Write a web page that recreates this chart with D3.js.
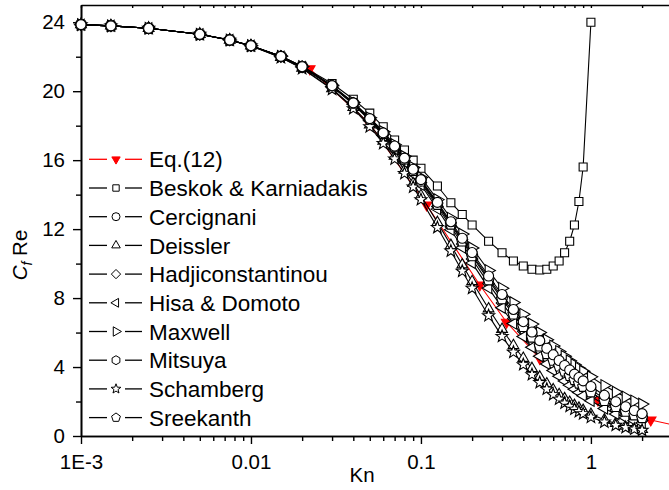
<!DOCTYPE html>
<html>
<head>
<meta charset="utf-8">
<script src="https://cdn.jsdelivr.net/npm/d3@7"></script>
<style>
body { margin: 0; background: #fff; }
text { font-family: Arial, "Liberation Sans", sans-serif; fill: #000; }
</style>
</head>
<body>
<script>
// Kn values shared by the model curves
var KN = [0.001, 0.0015, 0.0025, 0.005, 0.0075, 0.01, 0.015, 0.02,
  0.03, 0.04, 0.05, 0.06, 0.07, 0.08, 0.09, 0.1, 0.125, 0.15, 0.175,
  0.2, 0.25, 0.3, 0.35, 0.4, 0.45, 0.5, 0.55, 0.6, 0.65, 0.7, 0.75, 0.8, 0.85, 0.9,
  1.0, 1.2, 1.4, 1.6, 1.8, 2.0];

var beskok = [23.86, 23.79, 23.65, 23.30, 22.97, 22.64, 22.03, 21.45,
  20.45, 19.53, 18.73, 17.94, 17.17, 16.59, 16.00, 15.53, 14.50, 13.53, 12.85,
  12.24, 11.30, 10.63, 10.15, 9.86, 9.67, 9.63, 9.67, 9.86, 10.15, 10.63, 11.30, 12.24, 13.60, 15.60,
  24.00, null, null, null, null, null];
var cercignani = [23.86, 23.79, 23.65, 23.30, 22.97, 22.64, 22.02, 21.42,
  20.32, 19.32, 18.41, 17.58, 16.82, 16.12, 15.47, 14.87, 13.55, 12.43, 11.47,
  10.64, 9.28, 8.21, 7.34, 6.63, 6.03, 5.53, 5.09, 4.71, 4.38, 4.09, 3.83, 3.59, 3.39, 3.20,
  2.87, 2.36, 1.99, 1.70, 1.48, 1.30];
var deissler = [23.86, 23.79, 23.65, 23.30, 22.97, 22.63, 21.96, 21.34,
  20.15, 19.06, 18.05, 17.10, 16.23, 15.42, 14.66, 13.95, 12.39, 11.06, 9.93,
  8.96, 7.38, 6.19, 5.25, 4.51, 3.92, 3.43, 3.03, 2.69, 2.41, 2.17, 1.96, 1.78, 1.62, 1.49,
  1.26, 0.94, 0.73, 0.58, 0.47, 0.39];
var hadji = [23.86, 23.79, 23.65, 23.30, 22.97, 22.64, 22.01, 21.41,
  20.29, 19.27, 18.34, 17.49, 16.70, 15.98, 15.31, 14.69, 13.31, 12.14, 11.14,
  10.27, 8.84, 7.72, 6.82, 6.08, 5.46, 4.94, 4.50, 4.12, 3.78, 3.49, 3.23, 3.00, 2.80, 2.62,
  2.30, 1.83, 1.49, 1.24, 1.05, 0.90];
var hisa = [23.86, 23.79, 23.65, 23.30, 22.97, 22.64, 22.00, 21.40,
  20.27, 19.24, 18.29, 17.43, 16.63, 15.89, 15.20, 14.57, 13.16, 11.96, 10.93,
  10.04, 8.58, 7.44, 6.52, 5.77, 5.15, 4.63, 4.18, 3.80, 3.47, 3.19, 2.94, 2.71, 2.52, 2.34,
  2.04, 1.60, 1.28, 1.05, 0.88, 0.75];
var maxwell = [23.86, 23.79, 23.65, 23.30, 22.97, 22.64, 22.02, 21.43,
  20.34, 19.35, 18.46, 17.65, 16.90, 16.22, 15.58, 15.00, 13.71, 12.63, 11.71,
  10.91, 9.60, 8.57, 7.74, 7.06, 6.49, 6.00, 5.58, 5.22, 4.90, 4.62, 4.36, 4.14, 3.93, 3.75,
  3.43, 2.93, 2.55, 2.26, 2.03, 1.85];
var mitsuya = [23.86, 23.79, 23.65, 23.30, 22.97, 22.64, 22.02, 21.42,
  20.31, 19.31, 18.39, 17.56, 16.79, 16.08, 15.42, 14.82, 13.48, 12.34, 11.37,
  10.53, 9.15, 8.06, 7.18, 6.46, 5.86, 5.34, 4.90, 4.52, 4.19, 3.89, 3.63, 3.40, 3.19, 3.00,
  2.68, 2.17, 1.81, 1.53, 1.32, 1.15];
var schamberg = [23.86, 23.79, 23.65, 23.30, 22.96, 22.63, 21.95, 21.31,
  20.11, 18.99, 17.94, 16.97, 16.07, 15.23, 14.44, 13.71, 12.09, 10.73, 9.56,
  8.57, 6.98, 5.78, 4.86, 4.14, 3.56, 3.10, 2.72, 2.40, 2.14, 1.91, 1.72, 1.56, 1.42, 1.29,
  1.09, 0.81, 0.62, 0.49, 0.40, 0.33];
var sreekanth = [23.86, 23.79, 23.65, 23.30, 22.97, 22.64, 22.02, 21.42,
  20.30, 19.29, 18.37, 17.53, 16.76, 16.05, 15.39, 14.77, 13.42, 12.27, 11.29,
  10.44, 9.04, 7.94, 7.06, 6.33, 5.72, 5.20, 4.76, 4.38, 4.04, 3.75, 3.49, 3.25, 3.05, 2.86,
  2.54, 2.04, 1.69, 1.42, 1.21, 1.05];

// Eq.(12) has its own sampling
var KN_EQ = [0.0222, 0.05, 0.108, 0.222, 0.319, 0.5, 0.75, 1.1, 1.6, 2.25, 3.2];
var eq12 = [21.3, 18.1, 13.4, 8.76, 6.6, 4.5, 3.1, 2.09, 1.4, 0.93, 0.6];

var X_MAJOR = [0.001, 0.01, 0.1, 1];
var X_LABELS = ["1E-3", "0.01", "0.1", "1"];
var Y_MAJOR = [0, 4, 8, 12, 16, 20, 24];
var Y_MINOR = [2, 6, 10, 14, 18, 22];

var width = 669, height = 490;
var svg = d3.select("body").append("svg").attr("width", width).attr("height", height);

var x = d3.scaleLog().domain([0.001, 2.88]).range([81, 669]);
var y = d3.scaleLinear().domain([0, 25]).range([436, 5]);

var xMinor = [];
[0.001, 0.01, 0.1, 1].forEach(function(d) {
  for (var k = 2; k <= 9; k++) if (d * k < 2.88) xMinor.push(d * k);
});

// marker shapes
function poly(n, r, rot) {
  var pts = [];
  for (var i = 0; i < n; i++) {
    var a = (rot + i * 360 / n - 90) * Math.PI / 180;
    pts.push(r * Math.cos(a) + "," + r * Math.sin(a));
  }
  return "M" + pts.join("L") + "Z";
}
function star(r) {
  var pts = [];
  for (var i = 0; i < 10; i++) {
    var rr = i % 2 ? r * 0.42 : r;
    var a = (i * 36 - 90) * Math.PI / 180;
    pts.push(rr * Math.cos(a) + "," + rr * Math.sin(a));
  }
  return "M" + pts.join("L") + "Z";
}
var shapes = {
  circle: function(k) { return d3.symbol(d3.symbolCircle, Math.PI * 25 * k * k)(); },
  square: function(k) { return poly(4, 5.66 * k, 45); },
  up: function(k) { return poly(3, 6.2 * k, 0); },
  down: function(k) { return poly(3, 6 * k, 180); },
  left: function(k) { return poly(3, 6.4 * k, -90); },
  right: function(k) { return poly(3, 6.8 * k, 90); },
  diamond: function(k) { return poly(4, 5.8 * k, 0); },
  hexagon: function(k) { return poly(6, 5.6 * k, 0); },
  pentagon: function(k) { return poly(5, 5.8 * k, 0); },
  star: function(k) { return star(6.4 * k); }
};

var series = [
  {name: "Eq.(12)", kn: KN_EQ, v: eq12, shape: "down", color: "#ff0000", fill: "#ff0000"},
  {name: "Beskok & Karniadakis", kn: KN, v: beskok, shape: "square", color: "#000", fill: "#fff"},
  {name: "Cercignani", kn: KN, v: cercignani, shape: "circle", color: "#000", fill: "#fff"},
  {name: "Deissler", kn: KN, v: deissler, shape: "up", color: "#000", fill: "#fff"},
  {name: "Hadjiconstantinou", kn: KN, v: hadji, shape: "diamond", color: "#000", fill: "#fff"},
  {name: "Hisa & Domoto", kn: KN, v: hisa, shape: "left", color: "#000", fill: "#fff"},
  {name: "Maxwell", kn: KN, v: maxwell, shape: "right", color: "#000", fill: "#fff"},
  {name: "Mitsuya", kn: KN, v: mitsuya, shape: "hexagon", color: "#000", fill: "#fff"},
  {name: "Schamberg", kn: KN, v: schamberg, shape: "star", color: "#000", fill: "#fff"},
  {name: "Sreekanth", kn: KN, v: sreekanth, shape: "pentagon", color: "#000", fill: "#fff"}
];

// axes
function styleAxis(g) {
  g.select(".domain").attr("stroke", "#000").attr("stroke-width", 1.6);
  g.selectAll(".tick line").attr("stroke", "#000").attr("stroke-width", 1.4);
  g.selectAll("text").style("font-size", "20.5px").attr("fill", "#000");
}
svg.append("g").attr("transform", "translate(0,436)")
  .call(d3.axisBottom(x).tickValues(xMinor).tickSize(5).tickSizeOuter(0).tickFormat(""))
  .call(styleAxis);
svg.append("g").attr("transform", "translate(0,436)")
  .call(d3.axisBottom(x).tickValues(X_MAJOR).tickSize(8).tickSizeOuter(0).tickPadding(10)
    .tickFormat(function(d, i) { return X_LABELS[i]; }))
  .call(styleAxis);
svg.append("g").attr("transform", "translate(0,5)")
  .call(d3.axisTop(x).tickValues(X_MAJOR.concat(xMinor)).tickSize(-3).tickSizeOuter(0).tickFormat(""))
  .call(styleAxis);
svg.append("g").attr("transform", "translate(81,0)")
  .call(d3.axisLeft(y).tickValues(Y_MINOR).tickSize(5).tickSizeOuter(0).tickFormat(""))
  .call(styleAxis);
svg.append("g").attr("transform", "translate(81,0)")
  .call(d3.axisLeft(y).tickValues(Y_MAJOR).tickSize(8).tickSizeOuter(0).tickPadding(8))
  .call(styleAxis);

// data
var line = d3.line()
  .defined(function(d) { return d[1] != null; })
  .x(function(d) { return x(d[0]); })
  .y(function(d) { return y(d[1]); });

var order = [0, 1, 3, 4, 5, 6, 7, 8, 9, 2];
order.forEach(function(si) {
  var s = series[si];
  var pts = s.kn.map(function(k, i) { return [k, s.v[i]]; });
  var g = svg.append("g");
  g.append("path").datum(pts).attr("d", line)
    .attr("fill", "none").attr("stroke", s.color).attr("stroke-width", 1.1);
  g.selectAll("path.m").data(pts.filter(function(d) { return d[1] != null; }))
    .enter().append("path").attr("class", "m")
    .attr("transform", function(d) { return "translate(" + x(d[0]) + "," + y(d[1]) + ")"; })
    .attr("d", shapes[s.shape](1))
    .attr("fill", s.fill).attr("stroke", s.color).attr("stroke-width", 1.1);
});

// legend
var legend = svg.append("g");
series.forEach(function(s, i) {
  var ly = 159.3 + i * 28.7;
  var g = legend.append("g").attr("transform", "translate(0," + ly + ")");
  g.append("line").attr("x1", 89).attr("x2", 107).attr("y1", 0).attr("y2", 0)
    .attr("stroke", s.color).attr("stroke-width", 1.3);
  g.append("line").attr("x1", 125).attr("x2", 142).attr("y1", 0).attr("y2", 0)
    .attr("stroke", s.color).attr("stroke-width", 1.3);
  g.append("path").attr("transform", "translate(116,0)")
    .attr("d", shapes[s.shape](0.8))
    .attr("fill", s.fill).attr("stroke", s.color).attr("stroke-width", 1);
  g.append("text").attr("x", 149).attr("y", 0).attr("dy", "0.36em")
    .style("font-size", "22.5px").text(s.name);
});

// axis titles
svg.append("text").attr("x", 362).attr("y", 482).attr("text-anchor", "middle")
  .style("font-size", "20.5px").text("Kn");
var yt = svg.append("text").attr("transform", "translate(27,255) rotate(-90)")
  .attr("text-anchor", "middle").style("font-size", "20.5px");
yt.append("tspan").style("font-style", "italic").text("C");
yt.append("tspan").style("font-style", "italic").style("font-size", "14px")
  .attr("dy", 5).text("f");
yt.append("tspan").attr("dy", -5).text(" Re");
</script>
</body>
</html>
